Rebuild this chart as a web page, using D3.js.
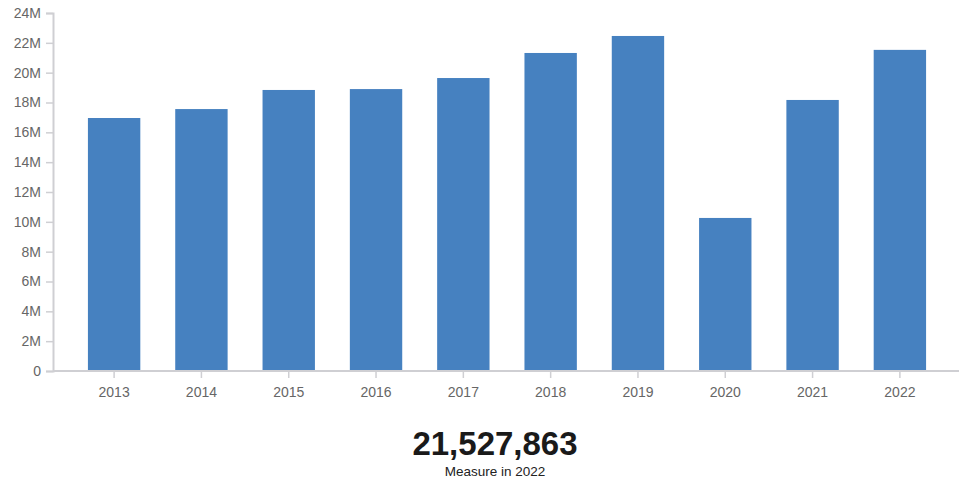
<!DOCTYPE html>
<html>
<head>
<meta charset="utf-8">
<script src="https://cdn.jsdelivr.net/npm/d3@7"></script>
<style>
  html, body { margin: 0; padding: 0; background: #fff; }
  svg { display: block; font-family: "Liberation Sans", Arial, sans-serif; }
</style>
</head>
<body>
<svg id="chart" width="959" height="483"></svg>
<script>
// Yearly measure values
const years = ["2013", "2014", "2015", "2016", "2017", "2018", "2019", "2020", "2021", "2022"];
const values = [16960000, 17560000, 18840000, 18900000, 19640000, 21320000, 22460000, 10260000, 18170000, 21527863];
const yTicks = [0, 2e6, 4e6, 6e6, 8e6, 10e6, 12e6, 14e6, 16e6, 18e6, 20e6, 22e6, 24e6];
const headlineYear = "2022";
const headlineLabel = "Measure in " + headlineYear;

const svg = d3.select("#chart");
const axisColor = "#cfcfd3";
const labelColor = "#666";

const x = d3.scaleBand().domain(years).range([53, 961]).paddingInner(0.4).paddingOuter(0.4);
const y = d3.scaleLinear().domain([0, 24e6]).range([371, 13]);

// Bars
svg.append("g").selectAll("rect")
  .data(years.map((yr, i) => ({ yr, v: values[i] })))
  .join("rect")
  .attr("x", d => x(d.yr))
  .attr("y", d => y(d.v))
  .attr("width", x.bandwidth())
  .attr("height", d => y(0) - y(d.v))
  .attr("fill", "#4681c0");

// Y axis
const yAxis = svg.append("g")
  .attr("transform", "translate(53,0)")
  .call(d3.axisLeft(y).tickValues(yTicks).tickSize(7).tickPadding(5)
    .tickFormat(d => d === 0 ? "0" : (d / 1e6) + "M"));
yAxis.select(".domain").attr("stroke", axisColor).attr("stroke-width", 2);
yAxis.selectAll(".tick line").attr("stroke", axisColor).attr("stroke-width", 1.5);
yAxis.selectAll(".tick text").attr("fill", labelColor).attr("font-size", 14);

// X axis
const xAxis = svg.append("g")
  .attr("transform", "translate(0,371)")
  .call(d3.axisBottom(x).tickSize(7).tickPadding(9).tickSizeOuter(0));
xAxis.select(".domain").attr("stroke", axisColor).attr("stroke-width", 2)
  .attr("d", "M53,0H959");
xAxis.selectAll(".tick line").attr("stroke", axisColor).attr("stroke-width", 1.5);
xAxis.selectAll(".tick text").attr("fill", labelColor).attr("font-size", 14);

// Headline figure for the latest year
const latest = values[years.indexOf(headlineYear)];
svg.append("text")
  .attr("x", 495).attr("y", 455)
  .attr("text-anchor", "middle")
  .attr("font-size", 33).attr("font-weight", "bold").attr("fill", "#1a1a1a")
  .text(d3.format(",")(latest));
svg.append("text")
  .attr("x", 495).attr("y", 476)
  .attr("text-anchor", "middle")
  .attr("font-size", 13.5).attr("fill", "#222")
  .text(headlineLabel);
</script>
</body>
</html>
